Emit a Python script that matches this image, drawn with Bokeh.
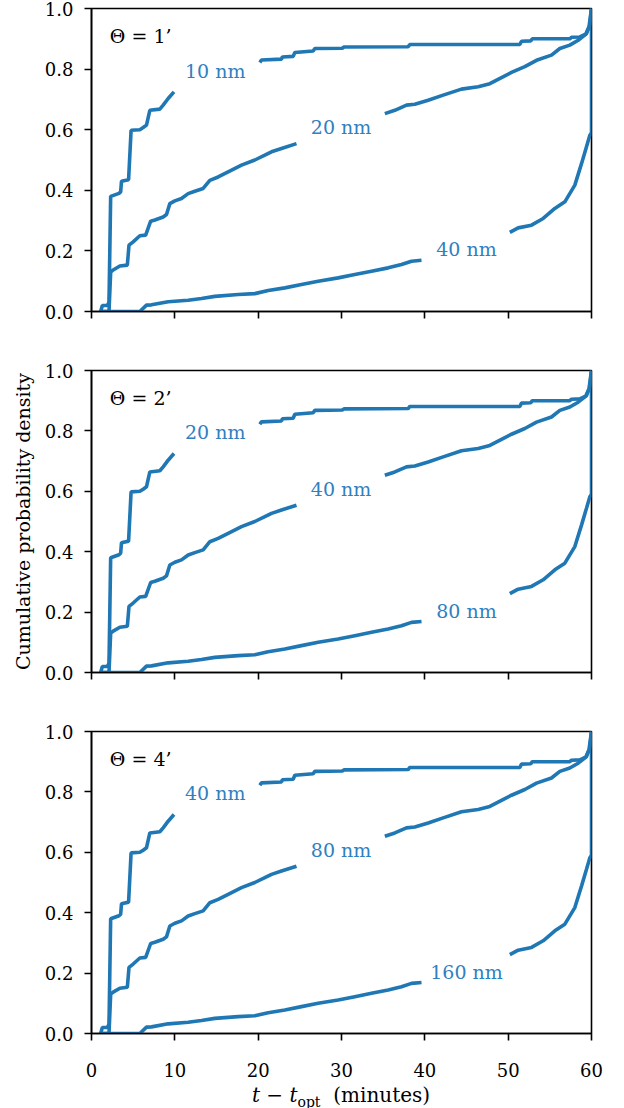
import math
from bokeh.plotting import figure
from bokeh.layouts import column
from bokeh.models import Range1d, FixedTicker, PrintfTickFormatter, Label, Div
from bokeh.embed import file_html
from bokeh.resources import INLINE

NaN = float("nan")

# ---- data (same three CDF curves in every panel) ----
# steepest curve (smallest size label)
fast_t = [1.1, 1.3, 1.9, 2.1, 2.3, 3.3, 3.5, 3.6, 4.45, 4.75, 5.8, 6.2, 6.6, 7.0, 8.2, 8.6, 9.2, 9.9, NaN,
          20.2, 20.4, 22.8, 22.9, 24.2, 24.4, 26.6, 26.8, 30.1, 30.3, 38.0, 38.2, 51.4, 51.6, 52.7, 52.9,
          57.4, 57.6, 58.6, 59.3, 59.7, 60.0]
fast_y = [0.0, 0.02, 0.02, 0.03, 0.38, 0.39, 0.395, 0.43, 0.435, 0.598, 0.60, 0.607, 0.615, 0.664, 0.668, 0.681, 0.703, 0.725, NaN,
          0.822, 0.83, 0.833, 0.84, 0.842, 0.855, 0.86, 0.868, 0.869, 0.873, 0.874, 0.881, 0.881, 0.892, 0.893, 0.90,
          0.90, 0.905, 0.906, 0.915, 0.94, 1.0]

# middle curve
mid_t = [1.0, 2.1, 2.3, 2.6, 3.4, 4.3, 4.5, 5.0, 5.8, 6.5, 7.1, 7.6, 8.6, 9.0, 9.4, 10.0, 10.8, 11.6, 12.4, 13.4,
         14.2, 15.2, 16.4, 18.0, 19.6, 20.8, 21.6, 22.8, 24.6, NaN,
         35.2, 36.4, 37.8, 38.8, 40.4, 42.2, 44.4, 46.4, 47.8, 49.2, 50.4, 52.0, 53.4, 55.2, 56.2, 57.4, 58.4,
         59.4, 59.8, 60.0]
mid_y = [0.0, 0.0, 0.13, 0.137, 0.15, 0.153, 0.219, 0.23, 0.25, 0.252, 0.298, 0.302, 0.312, 0.32, 0.356, 0.365, 0.373, 0.389, 0.397, 0.406,
         0.433, 0.444, 0.461, 0.483, 0.50, 0.516, 0.527, 0.538, 0.554, NaN,
         0.653, 0.664, 0.681, 0.684, 0.697, 0.714, 0.734, 0.742, 0.752, 0.772, 0.789, 0.808, 0.829, 0.846, 0.868, 0.879, 0.895,
         0.917, 0.945, 1.0]

# slowest curve (largest size label)
slow_t = [1.0, 5.8, 6.6, 7.2, 9.2, 11.6, 13.2, 14.8, 17.6, 19.6, 21.2, 23.2, 25.2, 27.2, 29.6, 31.6, 33.6, 35.6,
          37.2, 38.4, 39.6, NaN,
          50.2, 51.2, 52.8, 54.2, 55.6, 56.8, 58.0, 58.8, 59.4, 59.8, 60.0, 60.0]
slow_y = [0.0, 0.0, 0.021, 0.022, 0.032, 0.037, 0.043, 0.05, 0.056, 0.059, 0.069, 0.078, 0.089, 0.10, 0.111, 0.122, 0.133, 0.144,
          0.155, 0.166, 0.169, NaN,
          0.261, 0.276, 0.285, 0.307, 0.34, 0.362, 0.417, 0.488, 0.544, 0.582, 0.59, 1.0]

theta_labels = ["Θ = 1’", "Θ = 2’", "Θ = 4’"]
size_labels = [["10 nm", "20 nm", "40 nm"],
               ["20 nm", "40 nm", "80 nm"],
               ["40 nm", "80 nm", "160 nm"]]
x_ticks = [0, 10, 20, 30, 40, 50, 60]
y_ticks = [0.0, 0.2, 0.4, 0.6, 0.8, 1.0]
y_label = "Cumulative probability density"

# ---- styling ----
BLUE = "#1f77b4"
LABEL_BLUE = "#2f80bf"
FONT = "DejaVu Serif"
TICK_FS = "18px"
TEXT_FS = "19px"
LEFT = 91

label_pos = [(14.85, 0.795), (29.95, 0.608), (45.0, 0.205)]

fig_specs = [  # (height, top border, bottom border)
    (340, 8, 29),
    (361, 30, 29),
    (382, 30, 50),
]

figs = []
for i, (h, bt, bb) in enumerate(fig_specs):
    p = figure(width=LEFT + 500 + 18, height=h, output_backend="svg", toolbar_location=None,
               x_range=Range1d(0, 60), y_range=Range1d(0, 1),
               min_border_left=LEFT, min_border_right=18, min_border_top=bt, min_border_bottom=bb)
    p.grid.visible = False
    p.outline_line_color = "black"
    p.outline_line_width = 1.6
    p.background_fill_color = "white"
    p.border_fill_color = "white"

    p.xaxis.ticker = FixedTicker(ticks=x_ticks, minor_ticks=[])
    p.yaxis.ticker = FixedTicker(ticks=y_ticks, minor_ticks=[])
    p.yaxis.formatter = PrintfTickFormatter(format="%.1f")
    for ax in (p.xaxis[0], p.yaxis[0]):
        ax.axis_line_color = "black"
        ax.axis_line_width = 1.6
        ax.major_tick_line_color = "black"
        ax.major_tick_line_width = 1.6
        ax.major_tick_out = 7
        ax.major_tick_in = 0
        ax.minor_tick_out = 0
        ax.minor_tick_in = 0
        ax.major_label_text_font = FONT
        ax.major_label_text_font_size = TICK_FS
        ax.major_label_text_color = "black"
        ax.major_label_standoff = 11
    p.xaxis.major_label_standoff = 22
    if i < 2:
        p.xaxis.major_label_overrides = {t: "" for t in x_ticks}
    if i == 1:
        p.yaxis.axis_label = y_label
        p.yaxis.axis_label_text_font = FONT
        p.yaxis.axis_label_text_font_size = TEXT_FS
        p.yaxis.axis_label_text_font_style = "normal"
        p.yaxis.axis_label_text_color = "black"
        p.yaxis.axis_label_standoff = 8

    for xs, ys in ((fast_t, fast_y), (mid_t, mid_y), (slow_t, slow_y)):
        p.line(xs, ys, line_color=BLUE, line_width=3.6)

    for (lx, ly), txt in zip(label_pos, size_labels[i]):
        p.add_layout(Label(x=lx, y=ly, text=txt, text_align="center", text_baseline="middle",
                           text_font=FONT, text_font_size=TEXT_FS, text_color=LABEL_BLUE))
    p.add_layout(Label(x=2.2, y=0.91, text=theta_labels[i], text_align="left", text_baseline="middle",
                       text_font=FONT, text_font_size=TEXT_FS, text_color="black"))
    figs.append(p)

xlabel = Div(
    text=('<div style="position: relative; top: -4px; font-family: \'DejaVu Serif\'; font-size: 20px; color: black; '
          'text-align: center; width: 500px; line-height: 22px; white-space: nowrap;">'
          '<i>t</i>&nbsp;−&nbsp;<i>t</i><sub style="font-size: 14px; line-height: 0;">opt</sub>&nbsp; (minutes)</div>'),
    width=500, height=22, styles={"margin-left": f"{LEFT}px"})

layout = column(*figs, xlabel, spacing=0)
open("out.html", "w").write(file_html(layout, INLINE))
